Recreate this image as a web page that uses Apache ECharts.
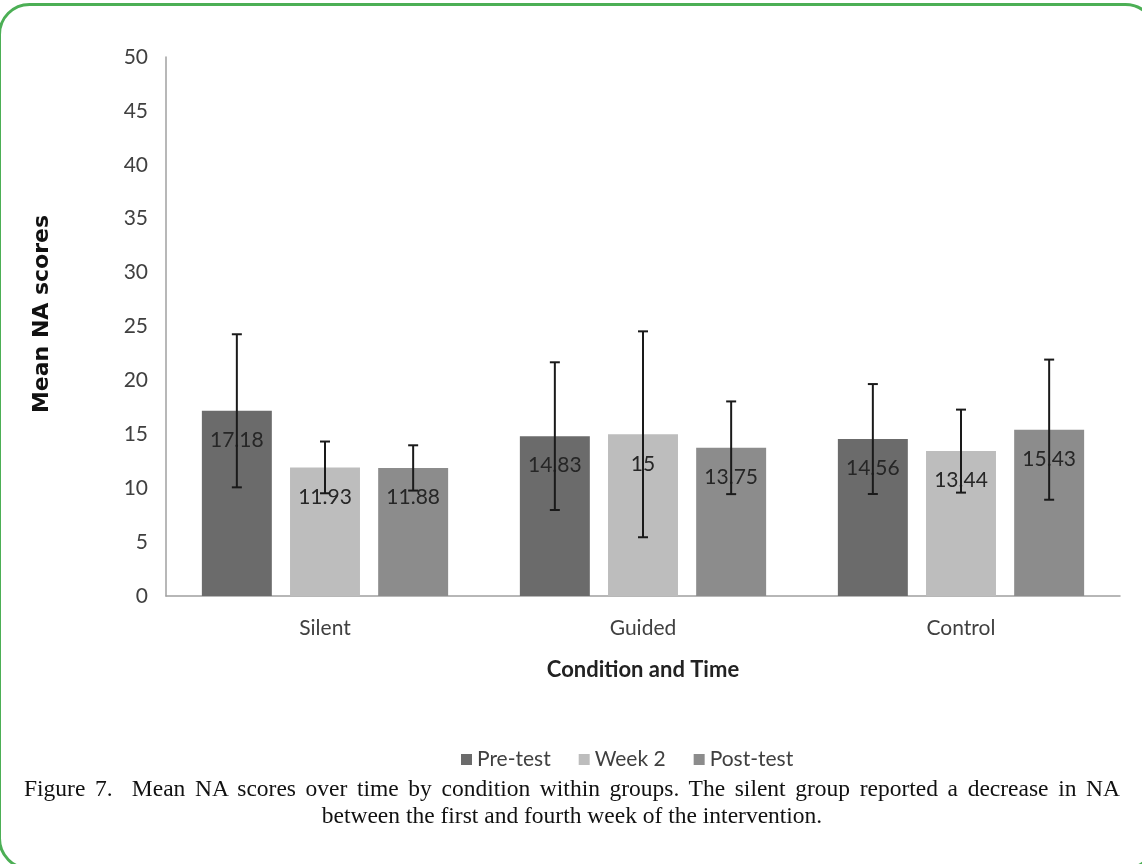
<!DOCTYPE html>
<html>
<head>
<meta charset="utf-8">
<title>Mean NA scores over time by condition</title>
<script src="https://cdn.jsdelivr.net/npm/echarts@6/dist/echarts.min.js"></script>
<style>
  html, body { margin: 0; padding: 0; background: #ffffff; }
  #wrap { position: relative; width: 1142px; height: 864px; overflow: hidden; }
  #chart { position: absolute; left: 0; top: 0; width: 1142px; height: 864px; }
  #caption {
    position: absolute; left: 24px; top: 775px; width: 1096px;
    font-family: "Liberation Serif", "Times New Roman", serif;
    font-size: 23.5px; line-height: 27px; color: #111;
  }
  #caption .l1 { text-align: justify; text-align-last: justify; white-space: nowrap; }
  #caption .l2 { text-align: center; }
</style>
</head>
<body>
<div id="wrap">
  <div id="chart"></div>
  <div id="caption">
    <div class="l1">Figure 7.&nbsp; Mean NA scores over time by condition within groups. The silent group reported a decrease in NA</div>
    <div class="l2">between the first and fourth week of the intervention.</div>
  </div>
</div>
<script>
// Groups along the x axis
const categories = ['Silent', 'Guided', 'Control'];
// Measurement occasions (one bar series each)
const seriesNames = ['Pre-test', 'Week 2', 'Post-test'];
// Mean NA scores per group
const preTest = [17.18, 14.83, 14.56];
const week2 = [11.93, 15, 13.44];
const postTest = [11.88, 13.75, 15.43];
// Half-length of each error bar
const preTestErr = [7.1, 6.85, 5.1];
const week2Err = [2.4, 9.55, 3.85];
const postTestErr = [2.1, 4.3, 6.5];
// Value axis range and step
const yMin = 0;
const yMax = 50;
const yStep = 5;

const means = [preTest, week2, postTest];
const errs = [preTestErr, week2Err, postTestErr];
const colors = ['#6b6b6b', '#bdbdbd', '#8c8c8c'];

// Bar width as share of the category band, gap as share of bar width
const BAR_W = 0.22;
const BAR_GAP = 0.26;
const FONT = 'Lato, "Open Sans", sans-serif';

const chart = echarts.init(document.getElementById('chart'), null, { renderer: 'canvas' });

const barSeries = seriesNames.map((name, k) => ({
  name: name,
  type: 'bar',
  data: means[k],
  barWidth: (BAR_W * 100) + '%',
  barGap: (BAR_GAP * 100) + '%',
  itemStyle: { color: colors[k] },
  label: {
    show: true,
    position: 'insideTop',
    distance: 19,
    fontFamily: FONT,
    fontSize: 21,
    color: '#262626'
  },
  z: 2
}));

const errorSeries = seriesNames.map((name, k) => ({
  name: name,
  type: 'custom',
  data: categories.map((c, i) => [i, means[k][i], errs[k][i]]),
  z: 5,
  silent: true,
  renderItem: function (params, api) {
    const i = api.value(0);
    const m = api.value(1);
    const e = api.value(2);
    const band = api.size([1, 0])[0];
    const bw = band * BAR_W;
    const step = bw * (1 + BAR_GAP);
    const x = api.coord([i, m])[0] + (k - 1) * step;
    const yTop = api.coord([i, m + e])[1];
    const yBot = api.coord([i, m - e])[1];
    const cap = 5;
    const style = { stroke: '#1a1a1a', lineWidth: 2, fill: null };
    return {
      type: 'group',
      children: [
        { type: 'line', shape: { x1: x, y1: yTop, x2: x, y2: yBot }, style: style },
        { type: 'line', shape: { x1: x - cap, y1: yTop, x2: x + cap, y2: yTop }, style: style },
        { type: 'line', shape: { x1: x - cap, y1: yBot, x2: x + cap, y2: yBot }, style: style }
      ]
    };
  }
}));

const option = {
  backgroundColor: 'transparent',
  animation: false,
  grid: { left: 166, right: 22, top: 57, bottom: 268, containLabel: false },
  legend: {
    data: seriesNames,
    left: 456,
    top: 744,
    icon: 'rect',
    itemWidth: 11,
    itemHeight: 11,
    itemGap: 28,
    textStyle: { fontFamily: FONT, fontSize: 21, color: '#404040' }
  },
  xAxis: {
    type: 'category',
    data: categories,
    name: 'Condition and Time',
    nameLocation: 'middle',
    nameGap: 63,
    nameTextStyle: { fontFamily: FONT, fontSize: 22, fontWeight: 'bold', color: '#222' },
    axisLine: { lineStyle: { color: '#a0a0a0', width: 1.5 } },
    axisTick: { show: false },
    axisLabel: { fontFamily: FONT, fontSize: 21, color: '#404040', margin: 22 }
  },
  yAxis: {
    type: 'value',
    min: yMin,
    max: yMax,
    interval: yStep,
    axisLine: { show: true, lineStyle: { color: '#a0a0a0', width: 1.5 } },
    axisTick: { show: false },
    splitLine: { show: false },
    axisLabel: { fontFamily: FONT, fontSize: 21, color: '#404040', margin: 18 }
  },
  graphic: [
    {
      type: 'rect',
      silent: true,
      shape: { x: -0.5, y: 4.5, width: 1156, height: 864, r: 30 },
      style: { fill: null, stroke: '#4caf55', lineWidth: 3 }
    },
    {
      type: 'text',
      silent: true,
      x: 42,
      y: 314,
      rotation: Math.PI / 2,
      style: {
        text: 'Mean NA scores',
        fontFamily: '"DejaVu Sans", Verdana, sans-serif',
        fontSize: 22,
        fontWeight: 'bold',
        fill: '#111',
        align: 'center',
        verticalAlign: 'middle'
      }
    }
  ],
  series: barSeries.concat(errorSeries)
};

chart.setOption(option);
</script>
</body>
</html>
